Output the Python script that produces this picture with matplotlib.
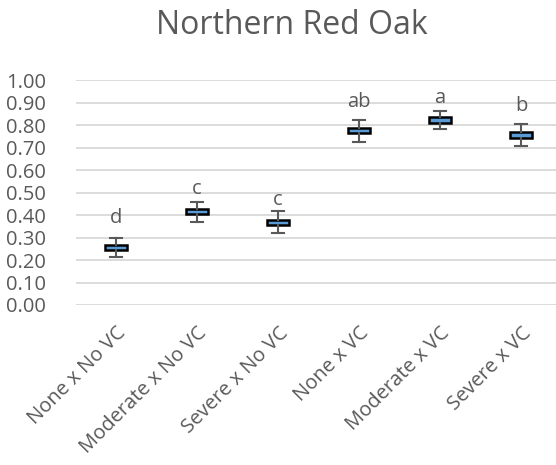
import matplotlib
matplotlib.use("Agg")
import matplotlib.pyplot as plt

plt.rcParams['font.family'] = ['Open Sans', 'DejaVu Sans']

categories = ["None x No VC", "Moderate x No VC", "Severe x No VC",
              "None x VC", "Moderate x VC", "Severe x VC"]
whisker_low = [0.212, 0.370, 0.319, 0.727, 0.783, 0.708]
q1 = [0.245, 0.405, 0.358, 0.768, 0.812, 0.745]
median = [0.256, 0.416, 0.369, 0.779, 0.824, 0.758]
q3 = [0.267, 0.427, 0.380, 0.790, 0.836, 0.771]
whisker_high = [0.297, 0.460, 0.420, 0.824, 0.864, 0.806]
letters = ["d", "c", "c", "ab", "a", "b"]
letter_y = [0.364, 0.494, 0.445, 0.880, 0.900, 0.865]
yticks = [i / 10 for i in range(11)]

text_color = "#595959"

fig = plt.figure(figsize=(5.56, 4.65), dpi=100)
W, H = 556, 465
left, right, top, bottom = 75.5, 556, 80.5, 305
ax = fig.add_axes([left / W, 1 - bottom / H, (right - left) / W, (bottom - top) / H])

stats = []
for i in range(len(categories)):
    stats.append(dict(whislo=whisker_low[i], q1=q1[i], med=median[i],
                      q3=q3[i], whishi=whisker_high[i], label=categories[i]))

ax.bxp(stats, positions=list(range(len(categories))), widths=0.27,
       showfliers=False, patch_artist=True,
       boxprops=dict(facecolor="#5B9BD5", edgecolor="black", linewidth=1.8),
       medianprops=dict(color="#5B9BD5", linewidth=0),
       whiskerprops=dict(color=text_color, linewidth=1.5),
       capprops=dict(color=text_color, linewidth=1.5),
       capwidths=0.15, zorder=3)

for i, (lab, yv) in enumerate(zip(letters, letter_y)):
    ax.text(i, yv, lab, ha="center", va="baseline", fontsize=14.5, color=text_color)

ax.set_ylim(0, 1.0)
ax.set_xlim(-0.5, -0.5 + (right - left) / 81.0)
ax.set_yticks(yticks)
ax.set_yticklabels([f"{v:.2f}" for v in yticks])
ax.set_xticks(list(range(len(categories))))
ax.set_xticklabels(categories, rotation=45, ha="right", rotation_mode="anchor")
ax.tick_params(axis="both", length=0, labelsize=14.5, colors=text_color)
ax.tick_params(axis="x", pad=13)
ax.tick_params(axis="y", pad=21)
for lbl in ax.get_yticklabels():
    lbl.set_horizontalalignment("right")
ax.grid(axis="y", color="#D9D9D9", linewidth=1.3, zorder=0)
ax.set_axisbelow(True)
for s in ax.spines.values():
    s.set_visible(False)

fig.text(292 / W, 1 - 26 / H, "Northern Red Oak", ha="center", va="center",
         fontsize=23, color=text_color)

fig.savefig("out.png", dpi=100)
